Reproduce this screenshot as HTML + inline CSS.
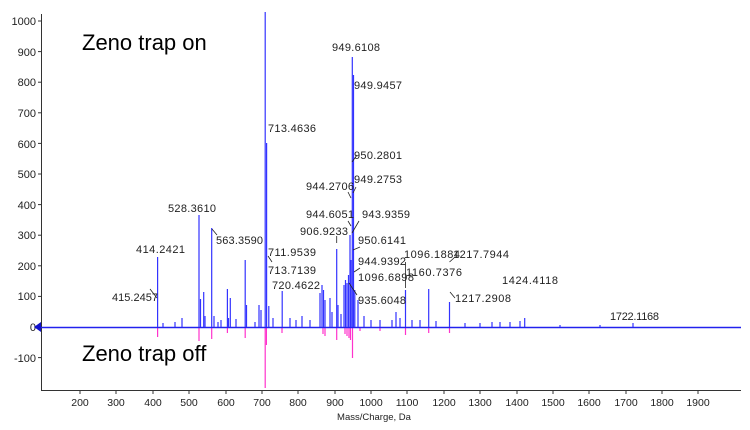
<!DOCTYPE html>
<html><head><meta charset="utf-8"><style>
html,body{margin:0;padding:0;background:#fff;}
svg{display:block;}
text{font-family:"Liberation Sans",sans-serif;}
</style></head><body>
<svg width="750" height="430" viewBox="0 0 750 430" xmlns="http://www.w3.org/2000/svg">
<rect width="750" height="430" fill="#fff"/>
<!-- axes -->
<g stroke="#333" stroke-width="1" fill="none">
<line x1="41.5" y1="14" x2="41.5" y2="390.5"/>
<line x1="41" y1="390.5" x2="741" y2="390.5"/>
</g>
<!-- y ticks -->
<g stroke="#333" stroke-width="1">
<line x1="38" y1="21" x2="41" y2="21"/><line x1="38" y1="51.6" x2="41" y2="51.6"/><line x1="38" y1="82.2" x2="41" y2="82.2"/><line x1="38" y1="112.8" x2="41" y2="112.8"/><line x1="38" y1="143.4" x2="41" y2="143.4"/><line x1="38" y1="174" x2="41" y2="174"/><line x1="38" y1="204.6" x2="41" y2="204.6"/><line x1="38" y1="235.2" x2="41" y2="235.2"/><line x1="38" y1="265.8" x2="41" y2="265.8"/><line x1="38" y1="296.4" x2="41" y2="296.4"/><line x1="38" y1="327" x2="41" y2="327"/><line x1="38" y1="357.6" x2="41" y2="357.6"/>
</g>
<g font-size="11" fill="#222" text-anchor="end">
<text x="36" y="25">1000</text><text x="36" y="56">900</text><text x="36" y="86">800</text><text x="36" y="117">700</text><text x="36" y="148">600</text><text x="36" y="178">500</text><text x="36" y="209">400</text><text x="36" y="239">300</text><text x="36" y="270">200</text><text x="36" y="300">100</text><text x="36" y="331">0</text><text x="36" y="362">-100</text>
</g>
<!-- x ticks -->
<g stroke="#333" stroke-width="1">
<line x1="80" y1="390" x2="80" y2="394"/><line x1="116" y1="390" x2="116" y2="394"/><line x1="153" y1="390" x2="153" y2="394"/><line x1="189" y1="390" x2="189" y2="394"/><line x1="226" y1="390" x2="226" y2="394"/><line x1="262" y1="390" x2="262" y2="394"/><line x1="298" y1="390" x2="298" y2="394"/><line x1="335" y1="390" x2="335" y2="394"/><line x1="371" y1="390" x2="371" y2="394"/><line x1="407" y1="390" x2="407" y2="394"/><line x1="444" y1="390" x2="444" y2="394"/><line x1="480" y1="390" x2="480" y2="394"/><line x1="517" y1="390" x2="517" y2="394"/><line x1="553" y1="390" x2="553" y2="394"/><line x1="589" y1="390" x2="589" y2="394"/><line x1="626" y1="390" x2="626" y2="394"/><line x1="662" y1="390" x2="662" y2="394"/><line x1="698" y1="390" x2="698" y2="394"/>
</g>
<g font-size="10.5" fill="#222" text-anchor="middle">
<text x="80" y="406">200</text><text x="116" y="406">300</text><text x="153" y="406">400</text><text x="189" y="406">500</text><text x="226" y="406">600</text><text x="262" y="406">700</text><text x="298" y="406">800</text><text x="335" y="406">900</text><text x="371" y="406">1000</text><text x="407" y="406">1100</text><text x="444" y="406">1200</text><text x="480" y="406">1300</text><text x="517" y="406">1400</text><text x="553" y="406">1500</text><text x="589" y="406">1600</text><text x="626" y="406">1700</text><text x="662" y="406">1800</text><text x="698" y="406">1900</text>
<text x="374" y="420" font-size="9.5">Mass/Charge, Da</text>
</g>
<!-- negative (off) magenta -->
<g stroke="#ff33cc" stroke-width="1.2">
<line x1="157.6" y1="327" x2="157.6" y2="337"/>
<line x1="199" y1="327" x2="199" y2="341"/>
<line x1="211.7" y1="327" x2="211.7" y2="339"/>
<line x1="245.2" y1="327" x2="245.2" y2="338"/>
<line x1="227.4" y1="327" x2="227.4" y2="333"/>
<line x1="265.2" y1="327" x2="265.2" y2="388"/>
<line x1="266.4" y1="327" x2="266.4" y2="345"/>
<line x1="282" y1="327" x2="282" y2="333"/>
<line x1="323" y1="327" x2="323" y2="334"/><line x1="325" y1="327" x2="325" y2="336"/>
<line x1="336.7" y1="327" x2="336.7" y2="340"/>
<line x1="345" y1="327" x2="345" y2="334"/><line x1="347" y1="327" x2="347" y2="336"/><line x1="349" y1="327" x2="349" y2="338"/><line x1="350.5" y1="327" x2="350.5" y2="340"/>
<line x1="352.5" y1="327" x2="352.5" y2="358"/>
<line x1="405.5" y1="327" x2="405.5" y2="335"/>
<line x1="428.7" y1="327" x2="428.7" y2="333"/>
<line x1="449.5" y1="327" x2="449.5" y2="333"/>
<line x1="380" y1="327" x2="380" y2="331"/><line x1="360" y1="327" x2="360" y2="331"/>
</g>
<!-- baseline -->
<line x1="41" y1="327.5" x2="741" y2="327.5" stroke="#2222ee" stroke-width="1.5"/>
<path d="M34 327 L41 322 L41 332 Z" fill="#1111cc"/>
<!-- positive (on) blue -->
<g stroke="#3333ff" stroke-width="1.2">
<line x1="157.6" y1="327" x2="157.6" y2="257"/>
<line x1="163" y1="327" x2="163" y2="323"/><line x1="175" y1="327" x2="175" y2="322"/><line x1="182" y1="327" x2="182" y2="318"/>
<line x1="199" y1="327" x2="199" y2="215"/>
<line x1="200.5" y1="327" x2="200.5" y2="299"/>
<line x1="203.7" y1="327" x2="203.7" y2="292"/>
<line x1="205" y1="327" x2="205" y2="316"/>
<line x1="211.7" y1="327" x2="211.7" y2="228"/>
<line x1="214" y1="327" x2="214" y2="316"/><line x1="218" y1="327" x2="218" y2="322"/><line x1="221" y1="327" x2="221" y2="320"/>
<line x1="227.4" y1="327" x2="227.4" y2="289"/><line x1="228.5" y1="327" x2="228.5" y2="318"/>
<line x1="230.3" y1="327" x2="230.3" y2="298"/>
<line x1="236" y1="327" x2="236" y2="319"/>
<line x1="245.2" y1="327" x2="245.2" y2="260"/><line x1="246.5" y1="327" x2="246.5" y2="305"/>
<line x1="255" y1="327" x2="255" y2="322"/><line x1="259" y1="327" x2="259" y2="305"/><line x1="261" y1="327" x2="261" y2="310"/>
<line x1="265.2" y1="327" x2="265.2" y2="12"/>
<line x1="266.6" y1="327" x2="266.6" y2="143"/>
<line x1="268.8" y1="327" x2="268.8" y2="306"/>
<line x1="273" y1="327" x2="273" y2="318"/>
<line x1="282.2" y1="327" x2="282.2" y2="291"/>
<line x1="290" y1="327" x2="290" y2="318"/><line x1="296" y1="327" x2="296" y2="320"/><line x1="302" y1="327" x2="302" y2="316"/><line x1="310" y1="327" x2="310" y2="320"/>
<line x1="320" y1="327" x2="320" y2="293"/><line x1="322" y1="327" x2="322" y2="285"/><line x1="323.5" y1="327" x2="323.5" y2="290"/><line x1="325" y1="327" x2="325" y2="300"/>
<line x1="330" y1="327" x2="330" y2="298"/><line x1="332" y1="327" x2="332" y2="312"/>
<line x1="336.7" y1="327" x2="336.7" y2="249"/><line x1="338" y1="327" x2="338" y2="305"/>
<line x1="341" y1="327" x2="341" y2="314"/>
<line x1="344" y1="327" x2="344" y2="285"/><line x1="345.5" y1="327" x2="345.5" y2="280"/><line x1="347" y1="327" x2="347" y2="283"/><line x1="348.5" y1="327" x2="348.5" y2="275"/><line x1="350" y1="327" x2="350" y2="235"/><line x1="351" y1="327" x2="351" y2="260"/>
<line x1="352.3" y1="327" x2="352.3" y2="57"/>
<line x1="353.5" y1="327" x2="353.5" y2="75"/>
<line x1="354.8" y1="327" x2="354.8" y2="290"/>
<line x1="358" y1="327" x2="358" y2="300"/><line x1="364" y1="327" x2="364" y2="316"/><line x1="371" y1="327" x2="371" y2="320"/><line x1="380" y1="327" x2="380" y2="320"/>
<line x1="392" y1="327" x2="392" y2="320"/><line x1="396" y1="327" x2="396" y2="312"/><line x1="400" y1="327" x2="400" y2="318"/>
<line x1="405.5" y1="327" x2="405.5" y2="290"/>
<line x1="412" y1="327" x2="412" y2="320"/><line x1="420" y1="327" x2="420" y2="320"/>
<line x1="428.7" y1="327" x2="428.7" y2="289"/>
<line x1="436" y1="327" x2="436" y2="321"/>
<line x1="449.5" y1="327" x2="449.5" y2="302"/>
<line x1="465" y1="327" x2="465" y2="323"/><line x1="480" y1="327" x2="480" y2="323"/><line x1="492" y1="327" x2="492" y2="322"/><line x1="500" y1="327" x2="500" y2="322"/><line x1="510" y1="327" x2="510" y2="322"/>
<line x1="520" y1="327" x2="520" y2="321"/><line x1="524.7" y1="327" x2="524.7" y2="318"/>
<line x1="560" y1="327" x2="560" y2="325"/><line x1="600" y1="327" x2="600" y2="325"/><line x1="633" y1="327" x2="633" y2="323"/>
</g>
<!-- leader lines -->
<g stroke="#222" stroke-width="0.8" fill="none">
<line x1="150" y1="289" x2="157" y2="298"/>
<line x1="212" y1="229" x2="217" y2="235"/>
<line x1="268" y1="256" x2="272" y2="262"/>
<line x1="352" y1="162" x2="357" y2="155"/>
<line x1="348" y1="192" x2="351" y2="198"/>
<line x1="356" y1="187" x2="353" y2="193"/>
<line x1="348" y1="221" x2="351" y2="226"/>
<line x1="359" y1="221" x2="352" y2="233"/>
<line x1="360" y1="247" x2="353" y2="250"/>
<line x1="360" y1="268" x2="354" y2="272"/>
<line x1="349" y1="283" x2="357" y2="295"/>
<line x1="336.7" y1="236" x2="336.7" y2="243"/>
<line x1="405.5" y1="262" x2="405.5" y2="288"/>
<line x1="449.5" y1="262" x2="454" y2="258"/>
<line x1="450" y1="292" x2="455" y2="298"/>
</g>
<g font-size="11" fill="#222">
<text x="136" y="253" textLength="49">414.2421</text>
<text x="112" y="301" textLength="46">415.2457</text>
<text x="168" y="212" textLength="48">528.3610</text>
<text x="216" y="244" textLength="47">563.3590</text>
<text x="268" y="132" textLength="48">713.4636</text>
<text x="268" y="256" textLength="48">711.9539</text>
<text x="268" y="274" textLength="48">713.7139</text>
<text x="272" y="289" textLength="48">720.4622</text>
<text x="332" y="51" textLength="48">949.6108</text>
<text x="354" y="89" textLength="48">949.9457</text>
<text x="354" y="159" textLength="48">950.2801</text>
<text x="306" y="190" textLength="48">944.2706</text>
<text x="354" y="183" textLength="48">949.2753</text>
<text x="306" y="218" textLength="48">944.6051</text>
<text x="362" y="218" textLength="48">943.9359</text>
<text x="300" y="235" textLength="48">906.9233</text>
<text x="358" y="244" textLength="48">950.6141</text>
<text x="358" y="265" textLength="48">944.9392</text>
<text x="358" y="281" textLength="56">1096.6898</text>
<text x="358" y="304" textLength="48">935.6048</text>
<text x="404" y="258" textLength="56">1096.1884</text>
<text x="406" y="276" textLength="56">1160.7376</text>
<text x="453" y="258" textLength="56">1217.7944</text>
<text x="455" y="302" textLength="56">1217.2908</text>
<text x="502" y="284" textLength="56">1424.4118</text>
<text x="610" y="320" textLength="49">1722.1168</text>
</g>
<text x="82" y="50" font-size="22" fill="#000">Zeno trap on</text>
<text x="82" y="361" font-size="22" fill="#000">Zeno trap off</text>
</svg>
</body></html>
